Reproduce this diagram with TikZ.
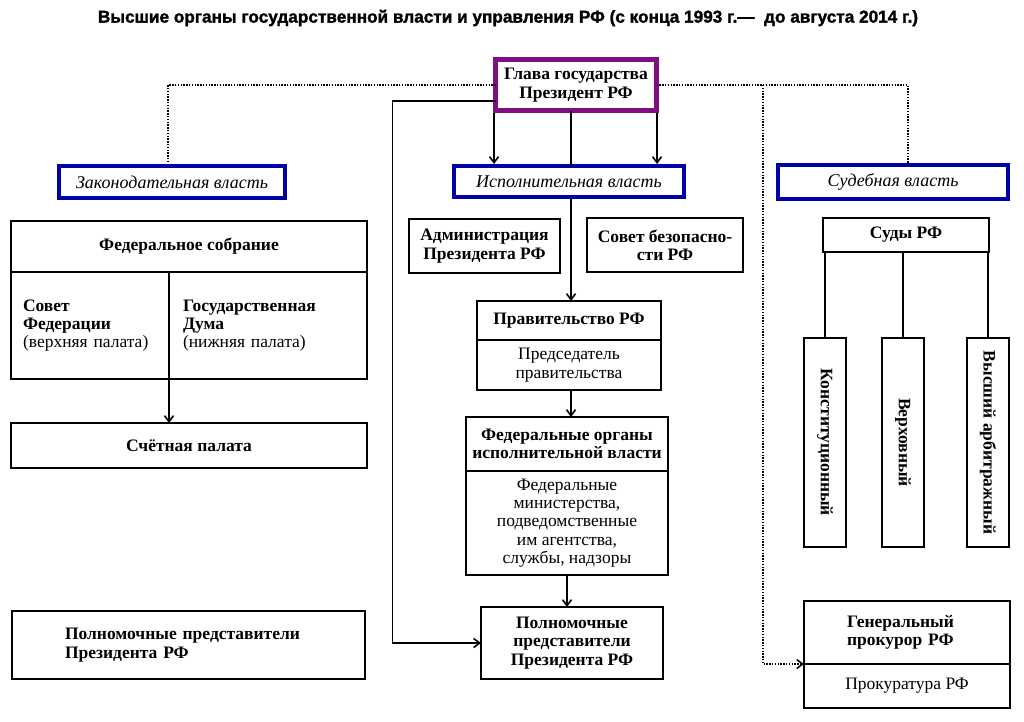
\documentclass[tikz,border=0pt]{standalone}
\usepackage{fontspec}
\setmainfont{Liberation Serif}
\newfontfamily\titlefont[FakeBold=1.6]{Liberation Sans}
\usetikzlibrary{arrows.meta}

\definecolor{rfblue}{RGB}{0,0,165}
\definecolor{rfpurple}{RGB}{128,16,128}
\newcommand\boxfont{\fontsize{17.5}{18.3}\selectfont}

\tikzset{
	box/.style={draw, line width=1.6pt, anchor=north west, inner sep=0pt, outer sep=0pt, align=center, font=\boxfont\bfseries},
	plainbox/.style={box, font=\boxfont},
	branch/.style={box, draw=rfblue, line width=4pt, font=\fontsize{18}{19}\selectfont\itshape},
	court/.style={draw, line width=1.6pt, rotate=-90, inner sep=0pt, outer sep=0pt, minimum width=209pt, font=\boxfont\bfseries},
	link/.style={line width=1.6pt},
	dotline/.style={line width=1.5pt, dash pattern=on 1.4pt off 1.4pt},
}

\begin{document}
\begin{tikzpicture}[x=1pt,y=-1pt, >={Straight Barb[length=6pt,width=9pt]}]
	\useasboundingbox (0,0) rectangle (1024,721);

	\node (title) at (508,18) {\titlefont\bfseries\fontsize{17.2}{17.2}\selectfont Высшие органы государственной власти и управления РФ (с конца 1993 г.—\ \ до августа 2014 г.)};

	% head and the three branches
	\node[box, draw=rfpurple, line width=5pt, minimum width=161pt, minimum height=51pt] (head) at (495.5,59.5) {Глава государства\\Президент РФ};
	\node[branch, minimum width=226pt, minimum height=32pt] (zak) at (59,166) {Законодательная власть};
	\node[branch, minimum width=230pt, minimum height=31pt] (isp) at (454,166) {Исполнительная власть};
	\node[branch, minimum width=230pt, minimum height=34pt] (sud) at (778,165) {Судебная власть};

	% legislative
	\node[box, minimum width=356pt, minimum height=51pt] (fst) at (11,221) {Федеральное собрание};
	\node[box, minimum width=158pt, minimum height=107pt, text width=134pt, align=left] (fsl) at (11,272) {Совет\\Федерации\\\mdseries(верхняя палата)};
	\node[box, minimum width=198pt, minimum height=107pt, text width=170pt, align=left] (fsr) at (169,272) {Государственная\\Дума\\\mdseries(нижняя палата)};
	\node[box, minimum width=356pt, minimum height=45pt] (schet) at (11,423) {Счётная палата};
	\node[box, minimum width=353pt, minimum height=68pt, text width=247pt, align=left] (poll) at (12,611) {Полномочные представители\\Президента РФ};

	% executive
	\node[box, minimum width=151pt, minimum height=54pt] (adm) at (409,219) {Администрация\\Президента РФ};
	\node[box, minimum width=156pt, minimum height=54pt] (sov) at (587,218) {Совет безопасно-\\сти РФ};
	\node[box, minimum width=184pt, minimum height=39pt] (pravt) at (477,301) {Правительство РФ};
	\node[plainbox, minimum width=184pt, minimum height=50pt] (pravb) at (477,340) {Председатель\\правительства};
	\node[box, minimum width=202pt, minimum height=54pt] (fedt) at (466,417) {Федеральные органы\\исполнительной власти};
	\node[plainbox, minimum width=202pt, minimum height=104pt] (fedb) at (466,471) {Федеральные\\министерства,\\подведомственные\\им агентства,\\службы, надзоры};
	\node[box, minimum width=182pt, minimum height=72pt] (polc) at (481,607) {Полномочные\\представители\\Президента РФ};

	% judicial
	\node[box, minimum width=166pt, minimum height=34pt] (sudy) at (823,218) {Суды РФ};
	\node[court, minimum height=42pt] (konst) at (825,442.5) {Конституционный};
	\node[court, minimum height=42pt] (verkh) at (903,442.5) {Верховный};
	\node[court, minimum height=42pt] (vyssh) at (988,442.5) {Высший арбитражный};
	\node[box, minimum width=206pt, minimum height=63pt, text width=120pt, align=left] (gent) at (804,601) {Генеральный\\прокурор РФ};
	\node[plainbox, minimum width=206pt, minimum height=44pt] (genb) at (804,664) {Прокуратура РФ};

	\coordinate (dj) at (763,85);

	% connectors
	\draw[dotline] (head.west) -| ([xshift=-4pt]zak.north);
	\draw[dotline] (head.east) -| ([xshift=15pt]sud.north);
	\draw[dotline,->] (dj) |- (gent.south west);
	\draw[link,->,shorten <=2.5pt,shorten >=2pt] ([xshift=-1.5pt]head.south west) -- ([xshift=-1.5pt]head.south west |- isp.north);
	\draw[link,->,shorten <=2.5pt,shorten >=2pt] ([xshift=0.5pt]head.south east) -- ([xshift=0.5pt]head.south east |- isp.north);
	\draw[link] ([xshift=2pt]head.south -| pravt.north) -- ([xshift=2pt]isp.north -| pravt.north);
	\draw[link,->,shorten <=2pt] ([xshift=2pt]isp.south -| pravt.north) -- ([xshift=2pt]pravt.north);
	\draw[link,->] ([xshift=2pt]pravb.south) -- ([xshift=2pt]pravb.south |- fedt.north);
	\draw[link,->] (fedb.south) -- (fedb.south |- polc.north);
	\draw[link,->] ([yshift=-16pt]head.west) -- ++(-103,0) |- (polc.west);
	\draw[link,->] (fsl.south east) -- (fsl.south east |- schet.north);
	% konst.west etc. is the top end of a turned box
	\draw[link] (konst.west |- sudy.south) -- (konst.west);
	\draw[link] (verkh.west |- sudy.south) -- (verkh.west);
	\draw[link] (vyssh.west |- sudy.south) -- (vyssh.west);
\end{tikzpicture}
\end{document}
